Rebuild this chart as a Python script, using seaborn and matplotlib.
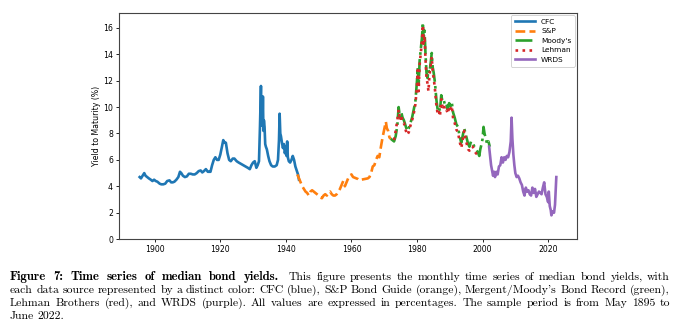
import matplotlib
matplotlib.use("Agg")
import matplotlib.pyplot as plt
import seaborn as sns
import pandas as pd

# ---- median bond yields by data source (year, yield %) ----
cfc_year = [1895.4, 1895.8, 1896.3, 1896.8, 1897.2, 1897.7, 1898.2, 1898.8, 1899.3, 1899.8,
            1900.3, 1900.8, 1901.5, 1902.0, 1902.6, 1903.2, 1903.8, 1904.5, 1905.0, 1905.5,
            1906.0, 1906.6, 1907.2, 1907.7, 1908.1, 1908.6, 1909.2, 1909.8, 1910.4, 1911.0,
            1911.6, 1912.2, 1912.8, 1913.4, 1914.0, 1914.5, 1915.0, 1915.6, 1916.2, 1916.6,
            1917.0, 1917.5, 1918.0, 1918.5, 1919.0, 1919.5, 1920.0, 1920.5, 1920.9, 1921.3,
            1921.7, 1922.2, 1922.7, 1923.2, 1923.8, 1924.3, 1925.0, 1925.6, 1926.3, 1927.0,
            1927.7, 1928.4, 1929.0, 1929.5, 1930.0, 1930.5, 1931.0, 1931.4, 1931.8, 1932.1,
            1932.4, 1932.55, 1932.7, 1932.85, 1933.0, 1933.15, 1933.3, 1933.5, 1933.7, 1933.9,
            1934.2, 1934.6, 1935.0, 1935.5, 1936.0, 1936.6, 1937.2, 1937.6, 1937.9, 1938.1,
            1938.3, 1938.5, 1938.8, 1939.1, 1939.4, 1939.7, 1940.0, 1940.2, 1940.4, 1940.6,
            1940.9, 1941.3, 1941.7, 1942.1, 1942.5, 1942.9, 1943.3, 1943.7, 1944.0]
cfc_yield = [4.7, 4.6, 4.8, 5.0, 4.8, 4.7, 4.6, 4.5, 4.4, 4.5,
             4.4, 4.35, 4.2, 4.15, 4.15, 4.2, 4.4, 4.45, 4.3, 4.3,
             4.35, 4.5, 4.7, 5.1, 5.0, 4.8, 4.7, 4.75, 4.95, 4.95,
             4.9, 4.9, 5.0, 5.15, 5.2, 5.05, 5.15, 5.3, 5.1, 5.1,
             5.1, 5.6, 6.0, 6.2, 6.0, 6.0, 6.4, 7.0, 7.5, 7.3,
             7.3, 6.5, 6.0, 5.9, 6.1, 6.1, 5.9, 5.8, 5.7, 5.6,
             5.5, 5.4, 5.3, 5.6, 5.8, 5.9, 5.4, 5.6, 5.9, 8.5,
             11.6, 8.6, 10.0, 8.6, 10.8, 8.2, 9.0, 8.5, 7.2, 7.0,
             6.8, 6.3, 5.9, 5.6, 5.5, 5.5, 5.6, 6.0, 7.5, 9.5,
             8.0, 7.8, 7.3, 6.9, 7.2, 6.5, 7.0, 6.3, 7.4, 6.2,
             5.9, 5.8, 6.0, 6.3, 6.0, 5.5, 5.2, 4.9, 4.5]

sp_year = [1943.5, 1944.0, 1944.5, 1945.0, 1945.5, 1946.0, 1946.5, 1947.0, 1947.5, 1948.0,
           1948.5, 1949.0, 1949.5, 1950.0, 1950.5, 1951.0, 1951.5, 1952.0, 1952.5, 1953.0,
           1953.5, 1954.0, 1954.5, 1955.0, 1955.5, 1956.0, 1956.5, 1957.0, 1957.5, 1958.0,
           1958.5, 1959.0, 1959.5, 1960.0, 1960.5, 1961.0, 1962.0, 1962.5, 1963.0, 1964.0,
           1965.0, 1965.5, 1966.0, 1966.5, 1967.0, 1967.5, 1968.0, 1968.5, 1969.0, 1969.5,
           1970.0, 1970.5, 1970.8, 1971.2, 1971.6, 1972.0]
sp_yield = [4.9, 4.6, 4.3, 4.0, 3.8, 3.6, 3.5, 3.3, 3.6, 3.7,
            3.6, 3.5, 3.4, 3.3, 3.15, 3.1, 3.3, 3.4, 3.3, 3.5,
            3.6, 3.4, 3.3, 3.3, 3.4, 3.6, 3.8, 4.1, 4.4, 4.0,
            4.3, 4.6, 4.8, 4.9, 4.7, 4.65, 4.55, 4.45, 4.5, 4.55,
            4.6, 4.7, 5.0, 5.5, 5.6, 6.0, 6.3, 6.2, 7.0, 7.7,
            8.3, 8.9, 8.4, 8.2, 7.7, 7.6]

moody_year = [1972.0, 1972.5, 1973.0, 1973.5, 1974.0, 1974.4, 1974.8, 1975.2, 1975.6, 1976.0,
              1976.5, 1977.0, 1977.5, 1978.0, 1978.5, 1979.0, 1979.5, 1980.0, 1980.2, 1980.5,
              1980.8, 1981.2, 1981.5, 1981.8, 1982.0, 1982.3, 1982.6, 1982.9, 1983.2, 1983.5,
              1983.8, 1984.2, 1984.5, 1984.8, 1985.1, 1985.5, 1985.9, 1986.3, 1986.7, 1987.0,
              1987.4, 1987.8, 1988.2, 1988.6, 1989.0, 1989.4, 1989.8, 1990.2, 1990.6, 1991.0,
              1991.5, 1992.0, 1992.5, 1993.0, 1993.5, 1994.0, 1994.4, 1994.8, 1995.2, 1995.6,
              1996.0, 1996.5, 1997.0, 1997.5, 1998.0, 1998.5, 1999.0, 1999.3, 1999.7, 2000.0,
              2000.3, 2000.6, 2001.0, 2001.4, 2001.8, 2002.2]
moody_yield = [7.6, 7.5, 7.4, 7.8, 8.6, 10.0, 9.2, 9.6, 9.2, 9.0,
               8.6, 8.2, 8.4, 8.8, 9.2, 9.8, 10.4, 12.0, 13.0, 11.6,
               13.5, 14.5, 15.2, 16.4, 15.2, 15.8, 14.0, 12.6, 12.2, 12.8,
               12.6, 13.4, 14.1, 13.0, 12.6, 11.8, 10.6, 9.8, 10.0, 9.7,
               10.9, 10.4, 10.5, 10.1, 10.2, 9.8, 10.3, 10.1, 10.4, 9.6,
               9.2, 8.7, 8.5, 7.8, 7.3, 7.9, 8.4, 8.0, 7.6, 7.2,
               7.0, 7.4, 7.3, 7.0, 6.8, 6.6, 6.3, 6.8, 7.2, 7.6,
               8.5, 8.0, 7.6, 7.2, 7.4, 7.0]

lehman_year = [1973.0, 1973.5, 1974.0, 1974.4, 1974.8, 1975.2, 1975.6, 1976.0, 1976.5, 1977.0,
               1977.5, 1978.0, 1978.5, 1979.0, 1979.5, 1980.0, 1980.2, 1980.5, 1980.8, 1981.2,
               1981.5, 1981.8, 1982.0, 1982.3, 1982.6, 1982.9, 1983.2, 1983.5, 1983.8, 1984.2,
               1984.5, 1984.8, 1985.1, 1985.5, 1985.9, 1986.3, 1986.7, 1987.0, 1987.4, 1987.8,
               1988.2, 1988.6, 1989.0, 1989.4, 1989.8, 1990.2, 1990.6, 1991.0, 1991.5, 1992.0,
               1992.5, 1993.0, 1993.5, 1994.0, 1994.4, 1994.8, 1995.2, 1995.6, 1996.0, 1996.5,
               1997.0, 1997.5, 1998.0, 1998.5]
lehman_yield = [7.5, 8.2, 9.0, 9.8, 9.0, 9.4, 8.8, 8.8, 8.3, 7.9,
                8.1, 8.6, 9.0, 9.5, 10.2, 11.6, 12.8, 11.2, 13.2, 14.2,
                15.0, 16.2, 14.8, 15.4, 13.6, 12.2, 11.8, 11.2, 12.4, 13.2,
                13.8, 12.6, 12.2, 11.3, 10.2, 9.5, 9.7, 9.3, 10.6, 10.0,
                10.2, 9.7, 9.8, 9.5, 10.0, 9.8, 10.1, 9.2, 8.8, 8.3,
                8.1, 7.4, 6.9, 7.6, 8.2, 7.6, 7.2, 6.8, 6.7, 7.0,
                7.0, 6.7, 6.5, 6.4]

wrds_year = [2002.0, 2002.3, 2002.6, 2002.9, 2003.2, 2003.5, 2003.8, 2004.2, 2004.6, 2005.0,
             2005.4, 2005.8, 2006.2, 2006.6, 2007.0, 2007.4, 2007.8, 2008.2, 2008.6, 2008.85,
             2009.1, 2009.4, 2009.7, 2010.0, 2010.4, 2010.8, 2011.2, 2011.6, 2012.0, 2012.4,
             2012.8, 2013.2, 2013.6, 2014.0, 2014.4, 2014.8, 2015.2, 2015.6, 2016.0, 2016.4,
             2016.8, 2017.2, 2017.6, 2018.0, 2018.4, 2018.8, 2019.2, 2019.6, 2020.0, 2020.2,
             2020.5, 2020.8, 2021.0, 2021.4, 2021.8, 2022.1, 2022.5]
wrds_yield = [7.0, 6.3, 5.6, 5.2, 4.8, 5.1, 4.7, 5.1, 4.9, 5.5,
              5.6, 6.2, 5.8, 6.2, 6.0, 6.3, 6.2, 6.6, 7.4, 9.2,
              7.6, 6.4, 5.6, 5.0, 4.7, 4.8, 4.6, 4.3, 4.1, 3.6,
              3.3, 3.9, 3.6, 3.7, 3.4, 3.3, 3.9, 3.5, 3.8, 3.2,
              3.4, 3.6, 3.5, 3.4, 3.9, 4.3, 3.4, 3.2, 2.8, 3.6,
              2.5, 2.2, 1.8, 2.1, 2.0, 2.6, 4.7]

sources = ["CFC", "S&P", "Moody's", "Lehman", "WRDS"]
series = {
    "CFC": (cfc_year, cfc_yield),
    "S&P": (sp_year, sp_yield),
    "Moody's": (moody_year, moody_yield),
    "Lehman": (lehman_year, lehman_yield),
    "WRDS": (wrds_year, wrds_yield),
}
styles = {
    "CFC": dict(color="#1f77b4", linestyle="-"),
    "S&P": dict(color="#ff7f0e", linestyle="--"),
    "Moody's": dict(color="#2ca02c", linestyle="-."),
    "Lehman": dict(color="#d62728", linestyle=":"),
    "WRDS": dict(color="#9467bd", linestyle="-"),
}

fig = plt.figure(figsize=(6.79, 3.24), dpi=100)
ax = fig.add_axes([0.175, 0.262, 0.675, 0.698])

for name in sources:
    yrs, vals = series[name]
    df = pd.DataFrame({"year": yrs, "yield": vals})
    sns.lineplot(data=df, x="year", y="yield", ax=ax, label=name,
                 linewidth=1.9, errorbar=None, **styles[name])

ax.set_ylim(bottom=0)
ax.set_xlabel("")
ax.set_ylabel("Yield to Maturity (%)", fontsize=5.6, labelpad=1.5)
ax.tick_params(labelsize=5.6, length=2.2, width=0.6, pad=2)
for sp in ax.spines.values():
    sp.set_linewidth(0.8)
    sp.set_color("#444444")
leg = ax.legend(loc="upper right", fontsize=5.3, handlelength=2.8,
                borderpad=0.5, labelspacing=0.45, framealpha=1.0,
                borderaxespad=0.3)
leg.get_frame().set_linewidth(0.6)

# ---- caption below the chart: each segment is justified across its span ----
# (text, weight, left px, right px, justify)
cap_segments = [
    [("Figure 7: Time series of median bond yields.", "bold", 10, 279, True),
     ("This figure presents the monthly time series of median bond yields, with",
      "normal", 289, 670, True)],
    [("each data source represented by a distinct color: CFC (blue), S&P Bond Guide (orange), "
      "Mergent/Moody's Bond Record (green),", "normal", 10, 670, True)],
    [("Lehman Brothers (red), and WRDS (purple). All values are expressed in percentages. "
      "The sample period is from May 1895 to", "normal", 10, 670, True)],
    [("June 2022.", "normal", 10, 670, False)],
]
cap_y = [277, 290, 303, 316]
W, H = 679, 324
fam = {"normal": "cmr10", "bold": "cmb10"}
size = {"normal": 8.4, "bold": 9.2}

renderer = fig.canvas.get_renderer()
for segs, ypx in zip(cap_segments, cap_y):
    for text, weight, x0, x1, justify in segs:
        arts = []
        total = 0.0
        for w in text.split():
            t = fig.text(0, 1 - ypx / H, w, fontsize=size[weight], family=fam[weight],
                         ha="left", va="center")
            wpx = t.get_window_extent(renderer).width
            arts.append((t, wpx))
            total += wpx
        n_gaps = len(arts) - 1
        gap = (x1 - x0 - total) / n_gaps if (justify and n_gaps > 0) else 3.0
        x = x0
        for t, wpx in arts:
            t.set_x(x / W)
            x += wpx + gap

fig.savefig("out.png", dpi=100)
